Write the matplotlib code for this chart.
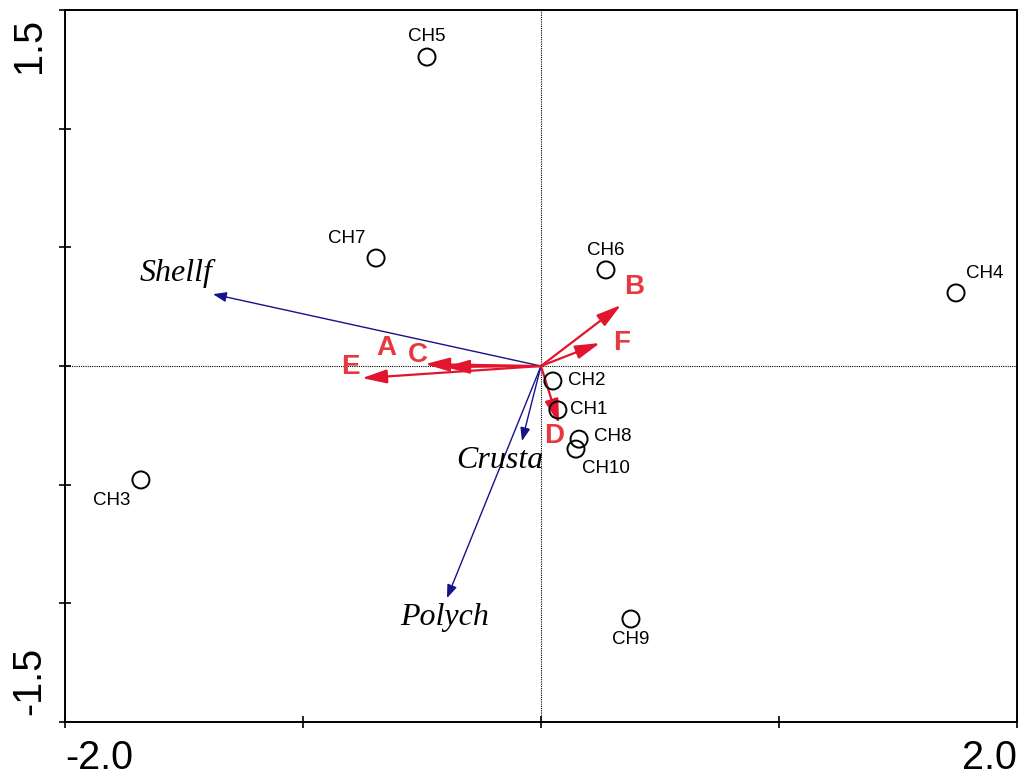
import matplotlib.pyplot as plt
from matplotlib.transforms import ScaledTranslation

# Site scores
sites = ["CH1", "CH2", "CH3", "CH4", "CH5", "CH6", "CH7", "CH8", "CH9", "CH10"]
site_x = [0.071, 0.050, -1.681, 1.744, -0.479, 0.273, -0.693, 0.160, 0.378, 0.147]
site_y = [-0.185, -0.063, -0.480, 0.308, 1.302, 0.405, 0.455, -0.308, -1.066, -0.350]

# Species biplot arrows
species = ["Shellf", "Crusta", "Polych"]
species_x = [-1.378, -0.080, -0.395]
species_y = [0.303, -0.316, -0.978]

# Environmental variable arrows
env = ["A", "B", "C", "D", "E", "F"]
env_x = [-0.403, 0.336, -0.487, 0.076, -0.752, 0.248]
env_y = [-0.004, 0.257, 0.008, -0.244, -0.051, 0.097]

x_ticks = [-2.0, -1.0, 0.0, 1.0, 2.0]
x_ticklabels = ["-2.0", "", "", "", "2.0"]
y_ticks = [-1.5, -1.0, -0.5, 0.0, 0.5, 1.0, 1.5]
y_ticklabels = ["-1.5", "", "", "", "", "", "1.5"]

# label offsets in points (dx, dy, ha, va)
site_label_pos = {
    "CH1": (9, 0, "left", "center"),
    "CH2": (11, 0, "left", "center"),
    "CH3": (-21, -15, "center", "center"),
    "CH4": (7, 14, "left", "center"),
    "CH5": (0, 15, "center", "center"),
    "CH6": (0, 14, "center", "center"),
    "CH7": (-21, 14, "center", "center"),
    "CH8": (11, 2, "left", "center"),
    "CH9": (0, -15, "center", "center"),
    "CH10": (4, -14, "left", "center"),
}
species_label_xy = [(-1.534, 0.392), (-0.172, -0.396), (-0.403, -1.058)]
env_label_xy = [(-0.651, 0.076), (0.391, 0.333), (-0.517, 0.046),
                (0.055, -0.295), (-0.803, -0.004), (0.340, 0.097)]

BLUE = "#17128a"
RED = "#e2152f"
RED_TEXT = "#e6393f"

fig = plt.figure(figsize=(10.19, 7.75), dpi=100)
ax = fig.add_axes([0.0638, 0.0684, 0.9342, 0.9186])
ax.set_xlim(-2.0, 2.0)
ax.set_ylim(-1.5, 1.5)

ax.axhline(0, color="black", lw=0.8, ls=(0, (1, 1)), zorder=1)
ax.axvline(0, color="black", lw=0.8, ls=(0, (1, 1)), zorder=1)

for name, x, y, (lx, ly) in zip(species, species_x, species_y, species_label_xy):
    ax.annotate("", xy=(x, y), xytext=(0, 0),
                arrowprops=dict(arrowstyle="-|>,head_length=0.8,head_width=0.3",
                                color=BLUE, lw=1.0, mutation_scale=10,
                                shrinkA=0, shrinkB=0),
                zorder=2)
    ax.text(lx, ly, name, family="Liberation Serif", style="italic",
            fontsize=23, ha="center", va="center", color="black", zorder=4)

for name, x, y, (lx, ly) in zip(env, env_x, env_y, env_label_xy):
    ax.annotate("", xy=(x, y), xytext=(0, 0),
                arrowprops=dict(arrowstyle="-|>,head_length=1.0,head_width=0.28",
                                color=RED, lw=1.6, mutation_scale=15,
                                shrinkA=0, shrinkB=0),
                zorder=3)
    ax.text(lx, ly, name, family="Liberation Sans", fontweight="bold",
            fontsize=20, ha="center", va="center", color=RED_TEXT, zorder=4)

ax.scatter(site_x, site_y, s=150, facecolors="none", edgecolors="black",
           linewidths=1.4, zorder=5)
for name, x, y in zip(sites, site_x, site_y):
    dx, dy, ha, va = site_label_pos[name]
    ax.annotate(name, xy=(x, y), xytext=(dx, dy), textcoords="offset points",
                ha=ha, va=va, fontsize=13.5, family="Liberation Sans", zorder=6)

ax.set_xticks(x_ticks)
ax.set_xticklabels(x_ticklabels, family="Liberation Sans", fontsize=28.5)
ax.set_yticks(y_ticks)
ax.set_yticklabels(y_ticklabels, family="Liberation Sans", fontsize=28.5,
                   rotation=90)
ax.tick_params(axis="both", direction="inout", length=8, width=1.2)
ax.tick_params(axis="x", pad=8)
ax.tick_params(axis="y", pad=8)

# end labels sit just inside the axis range
xl = ax.get_xticklabels()
xl[0].set_ha("left")
xl[-1].set_ha("right")
yl = ax.get_yticklabels()
yl[0].set_va("bottom")
yl[0].set_transform(yl[0].get_transform() + ScaledTranslation(0, 0.07, fig.dpi_scale_trans))
yl[-1].set_va("top")
yl[-1].set_transform(yl[-1].get_transform() + ScaledTranslation(0, -0.08, fig.dpi_scale_trans))

for spine in ax.spines.values():
    spine.set_linewidth(1.4)

fig.savefig("out.png", dpi=100)
